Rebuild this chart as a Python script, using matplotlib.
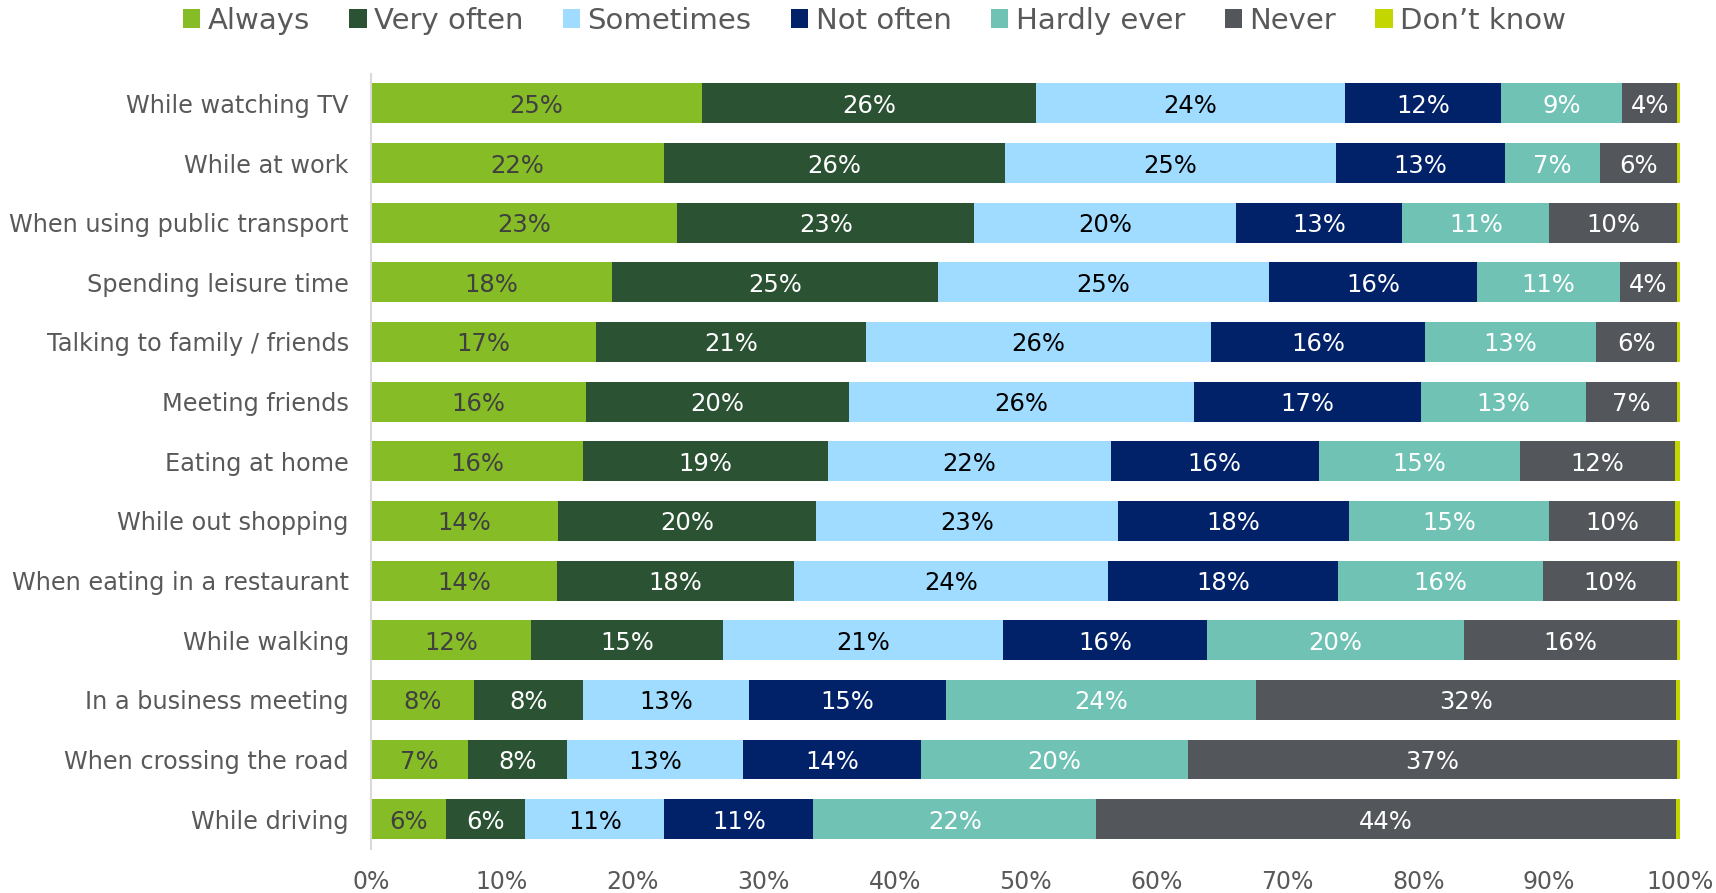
import matplotlib
matplotlib.use('Agg')
import matplotlib.pyplot as plt
from matplotlib.patches import Patch
import numpy as np

categories = ['While watching TV', 'While at work', 'When using public transport',
              'Spending leisure time', 'Talking to family / friends', 'Meeting friends',
              'Eating at home', 'While out shopping', 'When eating in a restaurant',
              'While walking', 'In a business meeting', 'When crossing the road',
              'While driving']

series_names = ['Always', 'Very often', 'Sometimes', 'Not often', 'Hardly ever', 'Never',
                'Don\u2019t know']

always = [25.3, 22.4, 23.4, 18.4, 17.2, 16.4, 16.2, 14.3, 14.2, 12.2, 7.9, 7.4, 5.7]
very_often = [25.5, 26.0, 22.7, 24.9, 20.6, 20.1, 18.7, 19.7, 18.1, 14.7, 8.3, 7.6, 6.1]
sometimes = [23.6, 25.3, 20.0, 25.3, 26.4, 26.4, 21.6, 23.1, 24.0, 21.4, 12.7, 13.4, 10.6]
not_often = [11.9, 12.9, 12.7, 15.9, 16.3, 17.3, 15.9, 17.6, 17.6, 15.6, 15.0, 13.6, 11.4]
hardly_ever = [9.3, 7.3, 11.2, 10.9, 13.1, 12.6, 15.4, 15.3, 15.6, 19.6, 23.7, 20.4, 21.6]
never = [4.2, 5.9, 9.8, 4.4, 6.2, 7.0, 11.8, 9.6, 10.3, 16.3, 32.1, 37.4, 44.3]
dont_know = [0.2, 0.2, 0.2, 0.2, 0.2, 0.2, 0.4, 0.4, 0.2, 0.2, 0.3, 0.2, 0.3]

tick_labels = ['0%', '10%', '20%', '30%', '40%', '50%', '60%', '70%', '80%', '90%', '100%']

colors = ['#86BC25', '#2C5234', '#A0DCFF', '#012169', '#6FC2B4', '#53565A', '#C4D600']
label_colors = ['#404040', 'white', 'black', 'white', 'white', 'white', None]

plt.rcParams['font.family'] = ['DejaVu Sans']

fig = plt.figure(figsize=(17.16, 8.93), dpi=100)
ax = fig.add_axes([0.2162, 0.0493, 0.7628, 0.8683])

data = [always, very_often, sometimes, not_often, hardly_ever, never, dont_know]
y = np.arange(len(categories))
left = np.zeros(len(categories))
for vals, name, col, lcol in zip(data, series_names, colors, label_colors):
    vals = np.array(vals)
    ax.barh(y, vals, left=left, height=0.67, color=col, label=name)
    if lcol is not None:
        for yi, v, l in zip(y, vals, left):
            ax.text(l + v / 2, yi, '%d%%' % round(v), ha='center', va='center_baseline',
                    fontsize=17.5, color=lcol)
    left = left + vals

ax.set_xlim(0, 100)
ax.set_ylim(len(categories) - 0.5, -0.5)
ax.set_yticks(y)
ax.set_yticklabels(categories)
ax.set_xticks(np.arange(0, 101, 10))
ax.set_xticklabels(tick_labels)
ax.tick_params(axis='y', length=0, pad=16, labelsize=17.3, colors='#595959')
ax.tick_params(axis='x', length=0, pad=15, labelsize=17, colors='#595959')

for side in ['top', 'right', 'bottom']:
    ax.spines[side].set_visible(False)
ax.spines['left'].set_color('#D9D9D9')
ax.spines['left'].set_linewidth(1.5)

handles = [Patch(facecolor=c, label=n) for c, n in zip(colors, series_names)]
fig.legend(handles=handles, loc='center', bbox_to_anchor=(0.5096, 0.977), ncol=7,
           frameon=False, fontsize=21, handlelength=0.6, handleheight=0.6,
           handletextpad=0.25, columnspacing=1.35, labelcolor='#595959')

fig.savefig('out.png', dpi=100)
